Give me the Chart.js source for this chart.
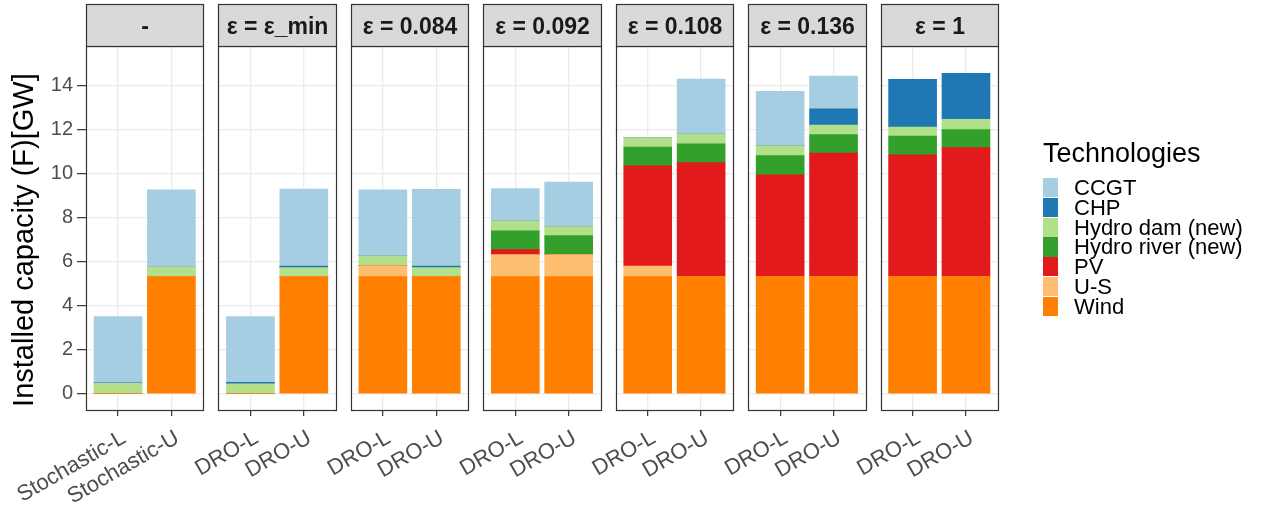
<!DOCTYPE html>
<html>
<head>
<meta charset="utf-8">
<script src="https://cdn.jsdelivr.net/npm/chart.js@4.4.1/dist/chart.umd.min.js"></script>
<style>
  html, body { margin: 0; padding: 0; background: #fff; }
  #wrap { position: relative; width: 1267px; height: 506px; }
  #c { position: absolute; left: 0; top: 0; }
  #legend { position: absolute; left: 1043px; top: 140px; font-family: "Liberation Sans", Arial, sans-serif; color: #000; }
  #legend .title { font-size: 27px; line-height: 27px; height: 38px; }
  #legend .row { position: relative; height: 19.8px; line-height: 19.8px; font-size: 22px; white-space: nowrap; }
  #legend .key { position: absolute; left: 0; top: 0; width: 15px; height: 19.3px; }
  #legend .lab { position: absolute; left: 31px; top: 0; }
</style>
</head>
<body>
<div id="wrap">
  <canvas id="c" width="1267" height="506"></canvas>
  <div id="legend"><div class="title">Technologies</div><div id="keys"></div></div>
</div>
<script>
// facet strips and bar categories
const panels = ['-', 'ε = ε_min', 'ε = 0.084', 'ε = 0.092', 'ε = 0.108', 'ε = 0.136', 'ε = 1'];
const barLabels = [
  'Stochastic-L', 'Stochastic-U',
  'DRO-L', 'DRO-U', 'DRO-L', 'DRO-U', 'DRO-L', 'DRO-U',
  'DRO-L', 'DRO-U', 'DRO-L', 'DRO-U', 'DRO-L', 'DRO-U',
];

// installed capacity per technology (GW), two bars per panel
const wind       = [0, 5.32, 0, 5.32, 5.32, 5.32, 5.32, 5.32, 5.32, 5.32, 5.32, 5.32, 5.32, 5.32];
const us         = [0, 0, 0, 0, 0.50, 0, 1.00, 1.00, 0.48, 0, 0, 0, 0, 0];
const pv         = [0, 0, 0, 0, 0, 0, 0.23, 0, 4.56, 5.18, 4.63, 5.61, 5.54, 5.86];
const hydroRiver = [0, 0, 0, 0, 0, 0, 0.85, 0.86, 0.85, 0.85, 0.87, 0.84, 0.85, 0.82];
const hydroDam   = [0.47, 0.43, 0.45, 0.41, 0.45, 0.41, 0.44, 0.41, 0.43, 0.45, 0.44, 0.44, 0.41, 0.47];
const chp        = [0.03, 0, 0.07, 0.07, 0, 0.07, 0, 0, 0, 0, 0, 0.74, 2.17, 2.09];
const ccgt       = [3.00, 3.51, 2.98, 3.50, 2.99, 3.49, 1.48, 2.03, 0, 2.50, 2.48, 1.48, 0, 0];

const yTicks = [0, 1, 2, 3, 4, 5, 6, 7, 8, 9, 10, 11, 12, 13, 14, 15];

// stacked bottom -> top
const series = [
  { label: 'Wind', data: wind, color: '#FF7F00' },
  { label: 'U-S', data: us, color: '#FDBF6F' },
  { label: 'PV', data: pv, color: '#E31A1C' },
  { label: 'Hydro river (new)', data: hydroRiver, color: '#33A02C' },
  { label: 'Hydro dam (new)', data: hydroDam, color: '#B2DF8A' },
  { label: 'CHP', data: chp, color: '#1F78B4' },
  { label: 'CCGT', data: ccgt, color: '#A6CEE3' },
];

// each panel spans 2.2 units (0.6 expansion each side), gap between panels ~0.28 units
const STEP = 2.481;
const barX = barLabels.map((_, i) => Math.floor(i / 2) * STEP + 1 + (i % 2));
const FONT = '"Liberation Sans", Arial, sans-serif';

const panelFrame = {
  id: 'panelFrame',
  beforeDatasetsDraw(chart) {
    // blank out grid lines in the gaps between facets
    const { ctx, chartArea, scales: { x } } = chart;
    ctx.save();
    ctx.fillStyle = '#fff';
    for (let i = 0; i < panels.length - 1; i++) {
      const r = x.getPixelForValue(i * STEP + 2.6);
      const l = x.getPixelForValue((i + 1) * STEP + 0.4);
      ctx.fillRect(r, chartArea.top - 2, l - r, chartArea.bottom - chartArea.top + 4);
    }
    ctx.restore();
  },
  afterDatasetsDraw(chart) {
    const { ctx, chartArea, scales: { x } } = chart;
    ctx.save();
    ctx.lineWidth = 1.2;
    ctx.strokeStyle = '#333333';
    panels.forEach((p, i) => {
      const l = Math.round(x.getPixelForValue(i * STEP + 0.4)) + 0.5;
      const r = Math.round(x.getPixelForValue(i * STEP + 2.6)) + 0.5;
      const t = Math.round(chartArea.top) + 0.5;
      const b = Math.round(chartArea.bottom) + 0.5;
      ctx.strokeRect(l, t, r - l, b - t);
      // strip
      ctx.fillStyle = '#D9D9D9';
      ctx.fillRect(l, 4.5, r - l, t - 4.5);
      ctx.strokeRect(l, 4.5, r - l, t - 4.5);
      ctx.fillStyle = '#1A1A1A';
      ctx.font = 'bold 23px ' + FONT;
      ctx.textAlign = 'center';
      ctx.textBaseline = 'alphabetic';
      ctx.fillText(p, (l + r) / 2, 34);
    });
    ctx.restore();
  },
};

new Chart(document.getElementById('c'), {
  type: 'bar',
  data: {
    datasets: series.map((s) => ({
      label: s.label,
      data: s.data.map((v, i) => ({ x: barX[i], y: v })),
      backgroundColor: s.color,
      borderWidth: 0,
      barThickness: 48,
    })),
  },
  options: {
    responsive: false,
    animation: false,
    devicePixelRatio: 1,
    layout: { padding: { top: 46, right: 269, left: 0, bottom: 0 } },
    plugins: { legend: { display: false }, tooltip: { enabled: false } },
    scales: {
      x: {
        type: 'linear',
        stacked: true,
        min: 0.4,
        max: (panels.length - 1) * STEP + 2.6,
        offset: false,
        afterBuildTicks: (s) => { s.ticks = barX.map((v) => ({ value: v })); },
        afterFit: (s) => { s.height = 96; },
        border: { display: false },
        grid: { offset: false, color: '#EBEBEB', lineWidth: 1.3, tickColor: '#333333', tickLength: 6, tickWidth: 1.2 },
        ticks: {
          autoSkip: false,
          minRotation: 30,
          maxRotation: 30,
          padding: 9,
          labelOffset: 6,
          color: '#4D4D4D',
          font: { family: FONT, size: 22 },
          callback: (v, i) => barLabels[i],
        },
      },
      y: {
        stacked: true,
        min: -0.74,
        max: 15.8,
        afterBuildTicks: (s) => { s.ticks = yTicks.map((v) => ({ value: v })); },
        afterFit: (s) => { s.width = 86; },
        border: { display: false },
        grid: {
          color: (c) => (c.tick && c.tick.value % 2 === 0 ? '#EBEBEB' : '#F2F2F2'),
          lineWidth: (c) => (c.tick && c.tick.value % 2 === 0 ? 1.3 : 0.8),
          tickColor: (c) => (c.tick && c.tick.value % 2 === 0 ? '#333333' : 'rgba(0,0,0,0)'),
          tickLength: 9,
          tickWidth: 1.2,
        },
        ticks: {
          padding: 4,
          color: '#4D4D4D',
          font: { family: FONT, size: 20 },
          callback: (v) => (v % 2 === 0 ? String(v) : ''),
        },
        title: {
          display: true,
          // trailing spaces nudge the centred title down to sit like the reference
          text: 'Installed capacity (F)[GW]   ',
          color: '#000',
          font: { family: FONT, size: 29 },
          padding: { top: 8, bottom: 0 },
        },
      },
    },
  },
  plugins: [panelFrame],
});

// legend, top entry = last stacked series
const keys = document.getElementById('keys');
series.slice().reverse().forEach((s) => {
  const row = document.createElement('div');
  row.className = 'row';
  row.innerHTML = `<div class="key" style="background:${s.color}"></div><div class="lab">${s.label}</div>`;
  keys.appendChild(row);
});
</script>
</body>
</html>
